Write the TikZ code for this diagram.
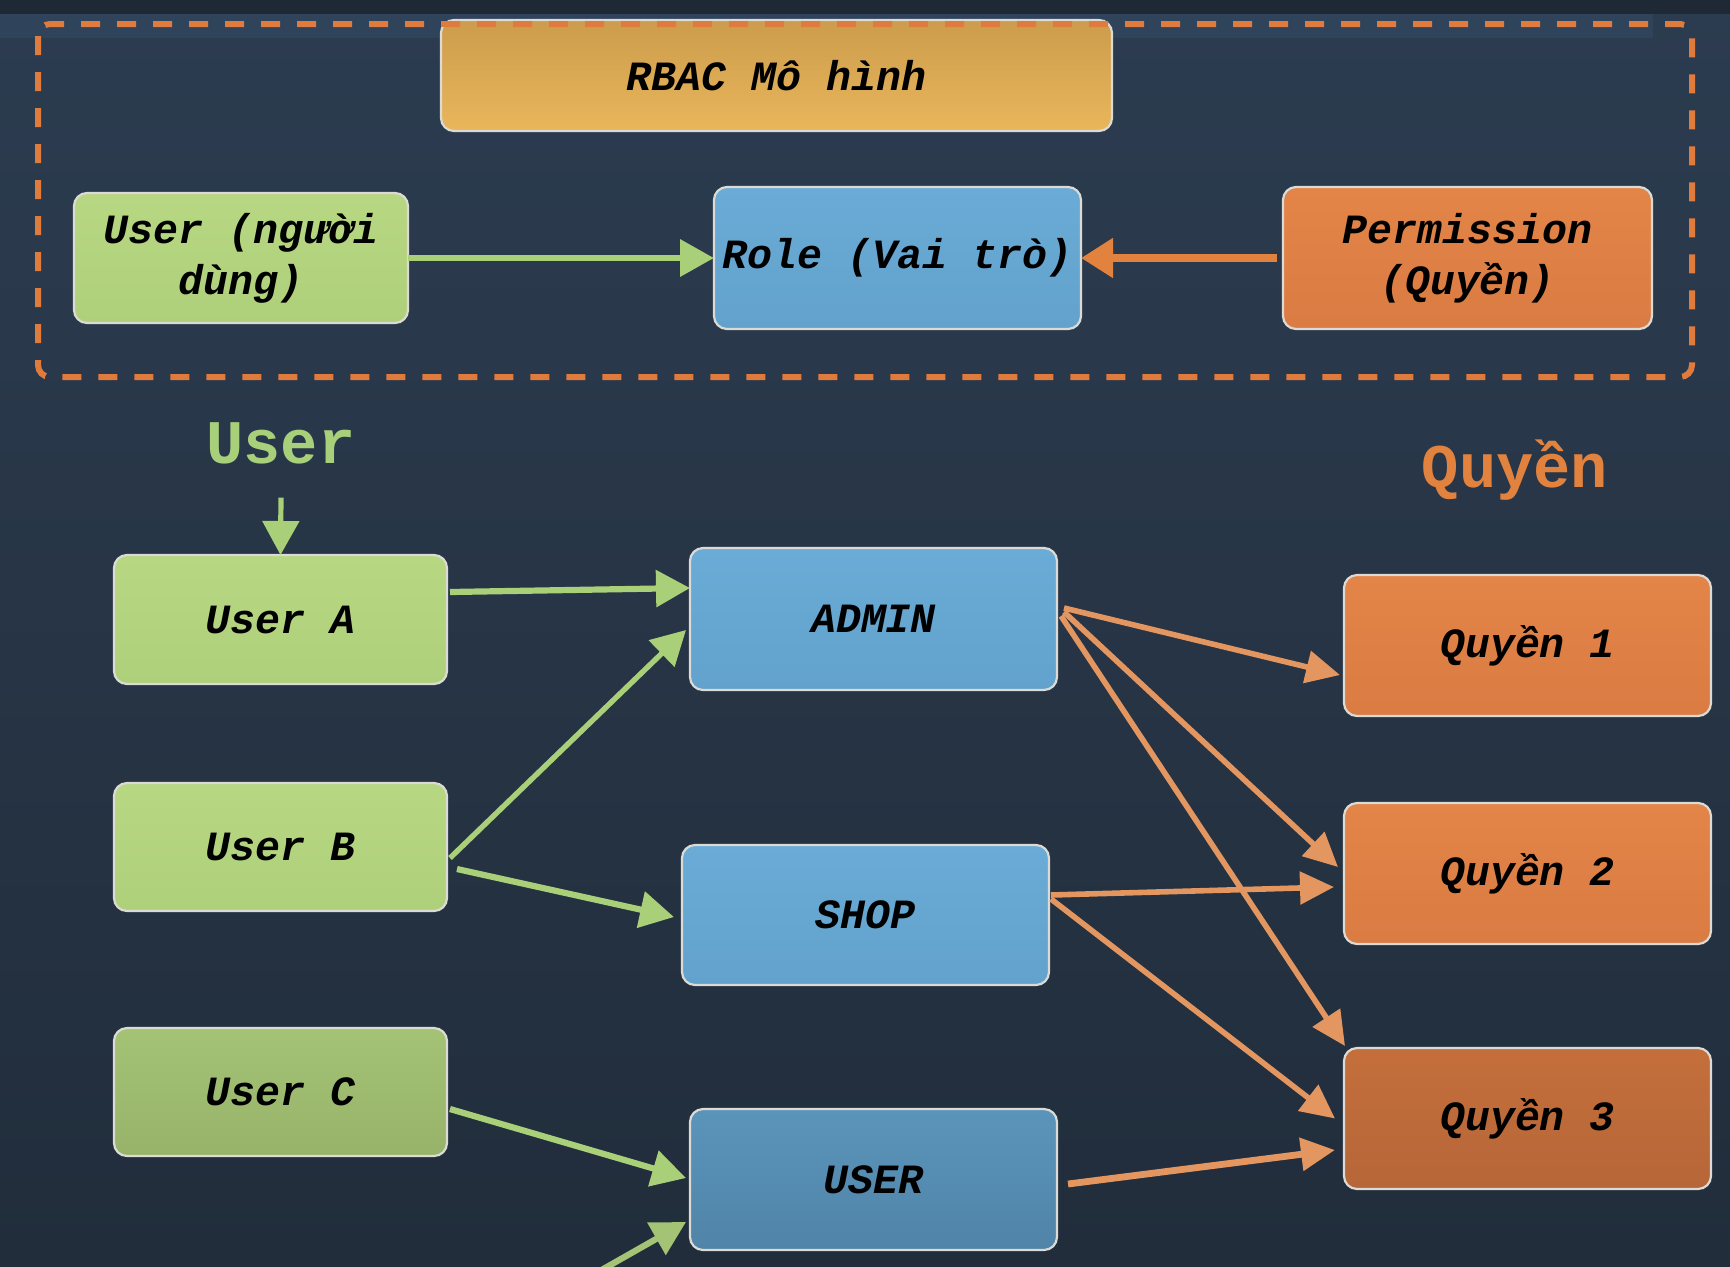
\documentclass[tikz,border=0pt]{standalone}
\usepackage{fontspec}
\setmonofont{Liberation Mono}
\usepackage{tikz}
\usetikzlibrary{calc,arrows.meta}

\definecolor{bgtop}{HTML}{2C3C50}
\definecolor{bgbot}{HTML}{212D3B}
\definecolor{bandtop}{HTML}{1E2935}
\definecolor{bandlight}{HTML}{2F435A}
\definecolor{boxline}{HTML}{DCDAD4}
\definecolor{framecol}{HTML}{E07B3E}
\definecolor{goldtop}{HTML}{CC9C4C}
\definecolor{goldbot}{HTML}{E9B65B}
\definecolor{greentop}{HTML}{B7D783}
\definecolor{greenbot}{HTML}{AFD07B}
\definecolor{greendtop}{HTML}{A4C375}
\definecolor{greendbot}{HTML}{97B36A}
\definecolor{bluetop}{HTML}{6AACD7}
\definecolor{bluebot}{HTML}{62A2CC}
\definecolor{bluedtop}{HTML}{5B94BA}
\definecolor{bluedbot}{HTML}{5084A8}
\definecolor{orangetop}{HTML}{E38448}
\definecolor{orangebot}{HTML}{DA7C43}
\definecolor{oranged}{HTML}{C46F3B}
\definecolor{orangedbot}{HTML}{B76639}
\definecolor{arrgreen}{HTML}{A9CF79}
\definecolor{arrorange}{HTML}{E3965F}
\definecolor{headgreen}{HTML}{A8CF7A}
\definecolor{headorange}{HTML}{E2823F}

\newcommand{\boxfont}{\ttfamily\bfseries\itshape\fontsize{20.8pt}{25.5pt}\selectfont}
\newcommand{\headfont}{\ttfamily\bfseries\fontsize{31pt}{36pt}\selectfont}

\begin{document}
\begin{tikzpicture}[x=0.5pt,y=-0.5pt,inner sep=0pt,outer sep=0pt,
    box/.style={draw=boxline,line width=1.1pt,rounded corners=6.5pt,align=center,
        text=black,font=\boxfont,minimum width=183.5pt,minimum height=71pt},
    greenbox/.style={box,top color=greentop,bottom color=greenbot},
    greendark/.style={box,top color=greendtop,bottom color=greendbot},
    bluebox/.style={box,top color=bluetop,bottom color=bluebot},
    bluedark/.style={box,top color=bluedtop,bottom color=bluedbot},
    orangebox/.style={box,top color=orangetop,bottom color=orangebot},
    orangedark/.style={box,top color=oranged,bottom color=orangedbot},
    greenarrow/.style={draw=arrgreen,line width=3.1pt,-{Triangle[length=17pt,width=18pt]}},
    orangearrow/.style={draw=arrorange,line width=2.8pt,-{Triangle[length=17pt,width=16pt]}}]
    %
    \useasboundingbox (0,0) rectangle (1730,1266);
    \shade[top color=bgtop,bottom color=bgbot] (0,0) rectangle (1730,1266);
    \fill[bandtop] (0,0) rectangle (1730,14);
    \fill[bandlight] (0,14) rectangle (1653,38);
    %
    \node[box,top color=goldtop,bottom color=goldbot,minimum width=335.5pt,minimum height=55.5pt]
        (rbac) at (776.5,75.5) {RBAC Mô hình};
    \draw[framecol,line width=3pt,rounded corners=6pt,dash pattern=on 9.5pt off 8.5pt]
        (38,24) rectangle (1692,377);
    %
    \node[greenbox,minimum width=167pt,minimum height=65pt] (user_top) at (241,258) {User (người\\dùng)};
    \node[bluebox] (role_top) at (897.5,258) {Role (Vai trò)};
    \node[orangebox,minimum width=184.5pt] (perm_top) at (1467.5,258) {Permission\\(Quyền)};
    \draw[greenarrow,line width=3.4pt] (user_top.east) -- (role_top.west);
    \draw[draw=headorange,line width=4.3pt,-{Triangle[length=16pt,width=19pt]}]
        ($(perm_top.west)+(-6,0)$) -- (role_top.east);
    %
    \node[text=headgreen,font=\headfont,anchor=base] (head_user) at (281,463) {User};
    \node[text=headorange,font=\headfont,anchor=base] (head_perm) at (1515,487) {Quyền};
    %
    \node[greenbox,minimum width=166.5pt,minimum height=64.5pt] (user_a) at (280.5,619.5) {User A};
    \node[greenbox,minimum width=166.5pt,minimum height=64pt] (user_b) at (280.5,847) {User B};
    \node[greendark,minimum width=166.5pt,minimum height=64pt] (user_c) at (280.5,1092) {User C};
    %
    \node[bluebox] (admin) at (873.5,619) {ADMIN};
    \node[bluebox,minimum height=70pt] (shop) at (865.5,915) {SHOP};
    \node[bluedark,minimum height=70.5pt] (user_role) at (873.5,1179.5) {USER};
    %
    \node[orangebox,minimum height=70.5pt] (q_1) at (1527.5,645.5) {Quyền 1};
    \node[orangebox,minimum height=70.5pt] (q_2) at (1527.5,873.5) {Quyền 2};
    \node[orangedark,minimum height=70.5pt] (q_3) at (1527.5,1118.5) {Quyền 3};
    %
    \draw[greenarrow,line width=2.6pt,-{Triangle[length=17pt,width=18pt]}]
        ($(head_user.south)+(0,34)$) -- (user_a.north);
    \draw[greenarrow] ($(user_a.east)+(3,-27.5)$) -- ($(admin.west)+(0,-31)$);
    \draw[greenarrow,line width=2.7pt] ($(user_b.east)+(3,11)$) -- ($(admin.west)+(-4,11)$);
    \draw[greenarrow] ($(user_b.east)+(10,22)$) -- ($(shop.west)+(-8,2)$);
    \draw[greenarrow] ($(user_c.east)+(3,17)$) -- ($(user_role.west)+(-4,-1.5)$);
    \coordinate (off_bottom) at (598,1272);
    \draw[greenarrow,draw=greendtop] (off_bottom) -- ($(user_role.west)+(-4,42.5)$);
    %
    \draw[orangearrow] ($(admin.east)+(7,-11)$) -- ($(q_1.west)+(-4,29.5)$);
    \draw[orangearrow] ($(admin.east)+(7,-7)$) -- ($(q_2.west)+(-6,-6.5)$);
    \draw[orangearrow] ($(admin.east)+(4,-3)$) -- ($(q_3.north west)+(1,-2)$);
    \draw[orangearrow] ($(shop.east)+(2,-20)$) -- ($(q_2.west)+(-10,13.5)$);
    \draw[orangearrow] ($(shop.east)+(2,-16)$) -- ($(q_3.west)+(-9,0)$);
    \draw[orangearrow,line width=3.4pt] ($(user_role.east)+(11,4.5)$) -- ($(q_3.west)+(-9,31.5)$);

\end{tikzpicture}
\end{document}
